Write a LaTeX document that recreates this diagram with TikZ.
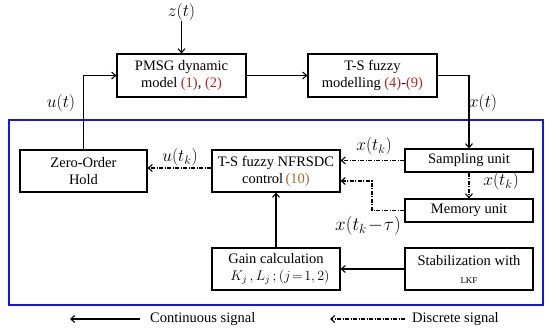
\RequirePackage{fix-cm}
\documentclass[tikz,border=0pt]{standalone}
\usepackage{fontspec}
\setmainfont{Liberation Serif}
\usetikzlibrary{arrows.meta}
\definecolor{refred}{RGB}{175,40,40}
\definecolor{refbrown}{RGB}{165,110,45}
\definecolor{frameblue}{RGB}{20,20,235}
\tikzset{
  blk/.style={draw=black, line width=1.1pt, fill=white, inner sep=0pt, align=center,
    font=\fontsize{14.5}{17}\selectfont},
  sig/.style={line width=1.1pt, -{Straight Barb[length=4pt,width=7pt]}},
  dsig/.style={sig, dash pattern=on 4pt off 1.5pt on 1pt off 1.5pt},
  lab/.style={inner sep=0pt, font=\fontsize{17.5}{20}\selectfont},
  leg/.style={inner sep=0pt, font=\fontsize{14.5}{17}\selectfont},
}
\begin{document}
\begin{tikzpicture}[x=1pt,y=-1pt]
\useasboundingbox (0,0) rectangle (550,335);
% blue frame
\draw[frameblue, line width=2.6pt] (9,120) rectangle (543,305);
% blocks
\node[blk, minimum width=129pt, minimum height=43pt] (pmsg) at (181.5,75.5)
  {PMSG dynamic\\model \textcolor{refred}{(1)}, \textcolor{refred}{(2)}};
\node[blk, minimum width=129pt, minimum height=43pt] (tsm) at (372.5,75.5)
  {T-S fuzzy\\modelling \textcolor{refred}{(4)}-\textcolor{refred}{(9)}};
\node[blk, minimum width=127pt, minimum height=42pt] (zoh) at (83.5,171)
  {Zero-Order\\Hold};
\node[blk, minimum width=128pt, minimum height=42pt] (ctrl) at (276,171)
  {T-S fuzzy NFRSDC\\control\,\textcolor{refbrown}{(10)}};
\node[blk, minimum width=128pt, minimum height=23pt] (samp) at (469,160.5)
  {Sampling unit};
\node[blk, minimum width=128pt, minimum height=23pt] (mem) at (469,210.5)
  {Memory unit};
\node[blk, minimum width=128pt, minimum height=42pt] (gain) at (276,269)
  {Gain calculation\\[0pt]\hspace*{8pt}{\fontsize{14}{15}\selectfont $K_j\,,L_j\,;(j\!=\!1,2)$}};
\node[blk, minimum width=128pt, minimum height=42pt] (stab) at (469,269)
  {Stabilization with\\[1pt]{\fontsize{9}{11}\selectfont LKF}};
% labels
\node[lab] (zlab) at (181.5,12) {$z(t)$};
\node[lab] (ulab) at (61,103) {$u(t)$};
\node[lab] (xlab) at (483,103) {$x(t)$};
\node[lab] (uklab) at (180,157) {$u(t_k)$};
\node[lab] (xklab) at (374,146) {$x(t_k)$};
\node[lab] (xk2lab) at (501,181) {$x(t_k)$};
\node[lab, font=\fontsize{19}{22}\selectfont] (xtaulab) at (368,226) {$x(t_k\!-\!\tau)$};
% connectors
\draw[sig] (zlab.south) -- (pmsg.north);
\draw[sig] (pmsg.east) -- (tsm.west);
\draw[sig] (tsm.east) -| (samp.north);
\draw[sig] (zoh.north) |- (pmsg.west);
\draw[dsig] ([yshift=3pt]ctrl.west) -- ([yshift=3pt]zoh.east);
\draw[dsig] (samp.west) -- (ctrl.east |- samp.west);
\draw[dsig] (samp.south) -- (mem.north);
\coordinate (memturn) at (372,210.5);
\draw[dsig] (mem.west) -- (memturn) |- ([yshift=-10pt]ctrl.east);
\draw[sig] (gain.north) -- (ctrl.south);
\draw[sig] (stab.west) -- (gain.east);
% legend
\coordinate (la) at (140,319);
\coordinate (lb) at (70,319);
\coordinate (lc) at (405,319);
\coordinate (ld) at (330,319);
\draw[sig] (la) -- (lb);
\node[leg, anchor=west] (ltxt1) at (150,319) {Continuous signal};
\draw[dsig] (lc) -- (ld);
\node[leg, anchor=west] (ltxt2) at (412,319) {Discrete signal};
\end{tikzpicture}
\end{document}
